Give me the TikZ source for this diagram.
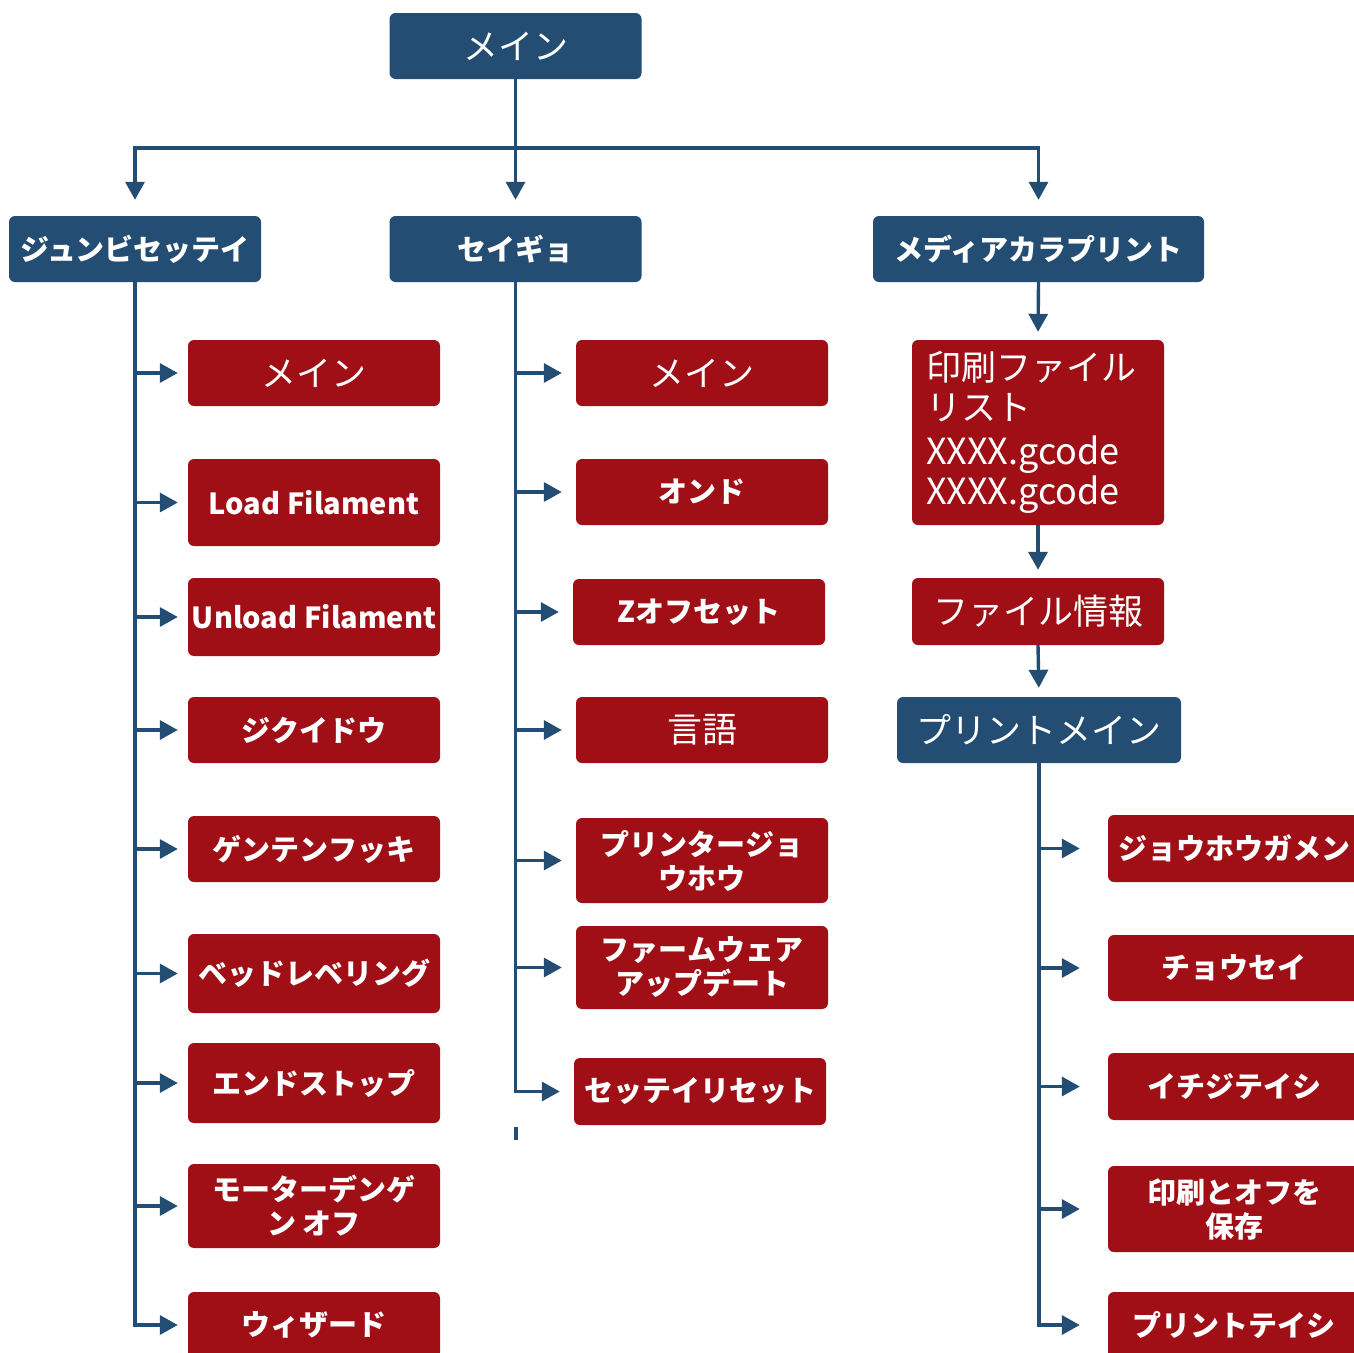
\documentclass[tikz,border=0pt]{standalone}
\usepackage{fontspec}
\setmainfont{Noto Sans CJK JP}
\usetikzlibrary{arrows.meta}
\definecolor{navy}{RGB}{35,77,114}
\definecolor{crimson}{RGB}{160,14,22}

\begin{document}
\begin{tikzpicture}[x=1pt, y=-1pt,
    box/.style={rounded corners=6pt, text=white, align=center, inner sep=0pt,
        minimum width=252pt, minimum height=66pt,
        font=\fontsize{29}{34}\selectfont\bfseries},
    hdr/.style={box, fill=navy},
    item/.style={box, fill=crimson},
    regtext/.style={font=\fontsize{35}{40}\selectfont},
    link/.style={draw=navy, line width=3.4pt, -{Triangle[length=18pt,width=19pt]}}]
    \useasboundingbox (0,0) rectangle (1354,1352);

    % Top level
    \node[hdr, regtext] (main) at (515.5,46) {メイン};
    \node[hdr] (setup) at (135,249) {ジュンビセッテイ};
    \node[hdr] (ctrl) at (515.5,249) {セイギョ};
    \node[hdr, minimum width=331pt] (media) at (1038.5,249) {メディアカラプリント};

    \coordinate (bus) at (515.5,148);
    \draw[link, shorten >=16pt] (main.south) -- (bus) -| (setup.north);
    \draw[link, shorten >=16pt] (bus) -| (media.north);
    \draw[link, shorten >=16pt] (main.south) -- (ctrl.north);

    % Setup column
    \node[item, regtext] (l1) at (314,373) {メイン};
    \node[item, minimum height=87pt] (l2) at (314,502.5) {Load Filament};
    \node[item, minimum height=78pt] (l3) at (314,617) {Unload Filament};
    \node[item] (l4) at (314,730) {ジクイドウ};
    \node[item] (l5) at (314,849) {ゲンテンフッキ};
    \node[item, minimum height=79pt] (l6) at (314,973.5) {ベッドレベリング};
    \node[item, minimum height=80pt] (l7) at (314,1083) {エンドストップ};
    \node[item, minimum height=84pt] (l8) at (314,1206) {モーターデンゲ\\ン オフ};
    \node[item] (l9) at (314,1325) {ウィザード};

    \foreach \n in {l1,l2,l3,l4,l5,l6,l7,l8,l9}
        \draw[link, shorten >=10pt] (setup.south) |- (\n.west);

    % Control column
    \node[item, regtext] (c1) at (702,373) {メイン};
    \node[item] (c2) at (702,492) {オンド};
    \node[item] (c3) at (699,612) {Zオフセット};
    \node[item, regtext] (c4) at (702,730) {言語};
    \node[item, minimum height=85pt] (c5) at (702,860.5) {プリンタージョ\\ウホウ};
    \node[item, minimum height=83pt] (c6) at (702,967.5) {ファームウェア\\アップデート};
    \node[item, minimum height=67pt] (c7) at (700,1091.5) {セッテイリセット};

    \foreach \n in {c1,c2,c3,c4,c5,c6,c7}
        \draw[link, shorten >=14pt] (ctrl.south) |- (\n.west);
    \draw[navy, line width=3.4pt] (516,1127) -- (516,1140);

    % Media print column
    \node[item, regtext, align=left, text width=224pt, inner xsep=14pt,
        minimum height=185pt] (files) at (1038,432.5)
        {印刷ファイル\\リスト\\[2pt]\fontsize{36}{42}\selectfont XXXX.gcode\\XXXX.gcode};
    \node[item, regtext, minimum height=67pt] (info) at (1038,611.5) {ファイル情報};
    \node[hdr, regtext, minimum width=284pt] (pmain) at (1039,730) {プリントメイン};

    \draw[link, shorten >=8pt] (media.south) -- (files.north);
    \draw[link, shorten >=8pt] (files.south) -- (info.north);
    \draw[link, shorten >=9pt] (info.south) -- (pmain.north);

    \node[item, minimum height=67pt] (r1) at (1234,848.5) {ジョウホウガメン};
    \node[item] (r2) at (1234,968) {チョウセイ};
    \node[item, minimum height=67pt] (r3) at (1234,1086.5) {イチジテイシ};
    \node[item, minimum height=86pt] (r4) at (1234,1209) {印刷とオフを\\保存};
    \node[item] (r5) at (1234,1325) {プリントテイシ};

    \foreach \n in {r1,r2,r3,r4,r5}
        \draw[link, shorten >=28pt] (pmain.south) |- (\n.west);
\end{tikzpicture}
\end{document}
